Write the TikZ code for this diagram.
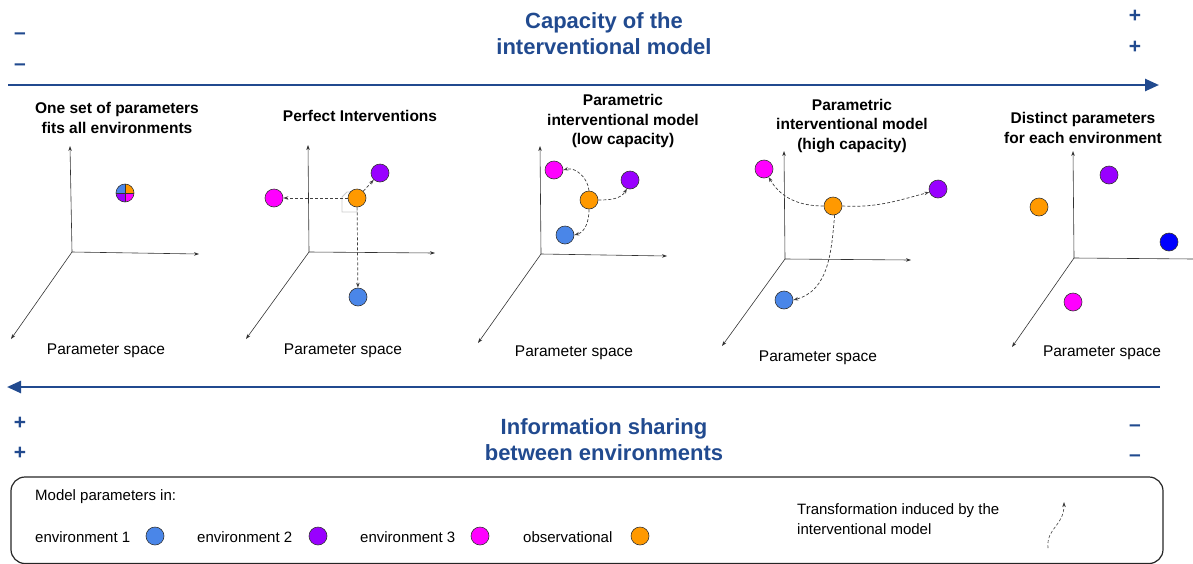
\documentclass[tikz,border=0pt]{standalone}
\usepackage{fontspec}
\setmainfont{Liberation Sans}
\usetikzlibrary{arrows.meta,calc}
\definecolor{hdblue}{RGB}{33,74,143}
\definecolor{envA}{RGB}{74,134,232}
\definecolor{envB}{RGB}{153,0,255}
\definecolor{envC}{RGB}{255,0,255}
\definecolor{obsO}{RGB}{255,153,0}
\definecolor{pureB}{RGB}{0,0,255}
\tikzset{
  pt/.style={circle,draw=black!80,line width=0.6pt,minimum size=18pt,inner sep=0pt},
  axis/.style={draw=black!80,line width=0.6pt,-{Stealth[length=5pt,width=3.5pt]}},
  trans/.style={draw=black!75,line width=0.7pt,dash pattern=on 3pt off 2pt,-{Stealth[length=5pt,width=3.5pt]}},
  bigarrow/.style={draw=hdblue,line width=2.5pt,-{Triangle[length=14pt,width=12pt]}},
  hdtext/.style={text=hdblue,font=\fontsize{22}{26}\selectfont\bfseries,align=center},
  pm/.style={text=hdblue,font=\fontsize{21}{24}\selectfont\bfseries,inner sep=0pt},
  ptitle/.style={font=\fontsize{15.5}{19.5}\selectfont\bfseries,align=center},
  pspace/.style={font=\fontsize{15.5}{19}\selectfont},
  legtext/.style={font=\fontsize{15}{20}\selectfont,anchor=west,inner sep=0pt,align=left},
}
\begin{document}
\begin{tikzpicture}[x=1pt,y=-1pt]
\useasboundingbox (0,0) rectangle (1193,563);
% header
\node[hdtext] (cap) at (604,34) {Capacity of the\\interventional model};
\node[pm] (m1) at (20,36) {–};
\node[pm] (m2) at (20,67) {–};
\node[pm] (p1) at (1135,16) {+};
\node[pm] (p2) at (1135,47) {+};
\coordinate (tA) at (8,85);
\coordinate (tB) at (1159,85);
\draw[bigarrow] (tA) -- (tB);
% bottom arrow
\coordinate (bA) at (1160,387);
\coordinate (bB) at (7,387);
\draw[bigarrow] (bA) -- (bB);
\node[pm] (p3) at (20,423) {+};
\node[pm] (p4) at (20,453) {+};
\node[pm] (m3) at (1135,428) {–};
\node[pm] (m4) at (1135,458) {–};
\node[hdtext] (info) at (604,440) {Information sharing\\between environments};

% ---------- panel 1
\coordinate (o1) at (72,252);
\coordinate (y1) at (70,146);
\coordinate (x1) at (199,254);
\coordinate (z1) at (11,339);
\draw[axis] (o1) -- (y1);
\draw[axis] (o1) -- (x1);
\draw[axis] (o1) -- (z1);
\node[ptitle] (t1) at (117,118) {One set of parameters\\fits all environments};
\node[pspace] (s1) at (106,351) {Parameter space};
\coordinate (c1) at (125,193);
\begin{scope}
\clip (c1) circle[radius=9];
\fill[envA] (c1) rectangle ++(-9,-9);
\fill[obsO] (c1) rectangle ++(9,-9);
\fill[envB] (c1) rectangle ++(-9,9);
\fill[envC] (c1) rectangle ++(9,9);
\end{scope}
\draw[black!80,line width=0.8pt] ($(c1)+(-9,0)$) -- ++(18,0);
\draw[black!80,line width=0.8pt] ($(c1)+(0,-9)$) -- ++(0,18);
\draw[black!80,line width=0.6pt] (c1) circle[radius=9];

% ---------- panel 2
\coordinate (o2) at (309,252);
\coordinate (y2) at (308,145);
\coordinate (x2) at (435,253);
\coordinate (z2) at (246,339);
\draw[axis] (o2) -- (y2);
\draw[axis] (o2) -- (x2);
\draw[axis] (o2) -- (z2);
\node[ptitle] (t2) at (360,116) {Perfect Interventions};
\node[pspace] (s2) at (343,351) {Parameter space};
\draw[black!20,line width=0.8pt] (342,197) -- (347,192) -- (357,192) -- (357,212) -- (342,212) -- cycle;
\node[pt,fill=obsO] (O2) at (357,198) {};
\node[pt,fill=envB] (B2) at (380,173) {};
\node[pt,fill=envC] (C2) at (274,198) {};
\node[pt,fill=envA] (A2) at (358,297) {};
\draw[trans] (O2) -- (C2);
\draw[trans] (O2) -- (A2);
\draw[trans] (O2) -- (B2);

% ---------- panel 3
\coordinate (o3) at (541,254);
\coordinate (y3) at (540,146);
\coordinate (x3) at (667,256);
\coordinate (z3) at (478,343);
\draw[axis] (o3) -- (y3);
\draw[axis] (o3) -- (x3);
\draw[axis] (o3) -- (z3);
\node[ptitle] (t3) at (623,121) {Parametric\\interventional model\\(low capacity)};
\node[pspace] (s3) at (574,353) {Parameter space};
\node[pt,fill=envC] (C3) at (554,170) {};
\node[pt,fill=envB] (B3) at (630,180) {};
\node[pt,fill=obsO] (O3) at (589,200) {};
\node[pt,fill=envA] (A3) at (565,235) {};
\draw[trans] (O3.north) to[out=95,in=15] (C3.east);
\draw[trans] (O3.east) to[out=0,in=240] (B3.250);
\draw[trans] (O3.south) to[out=-90,in=15] (A3.east);

% ---------- panel 4
\coordinate (o4) at (785,259);
\coordinate (y4) at (784,151);
\coordinate (x4) at (911,260);
\coordinate (z4) at (722,346);
\draw[axis] (o4) -- (y4);
\draw[axis] (o4) -- (x4);
\draw[axis] (o4) -- (z4);
\node[ptitle] (t4) at (852,126) {Parametric\\interventional model\\(high capacity)};
\node[pspace] (s4) at (818,358) {Parameter space};
\node[pt,fill=envC] (C4) at (764,169) {};
\node[pt,fill=envB] (B4) at (938,189) {};
\node[pt,fill=obsO] (O4) at (833,206) {};
\node[pt,fill=envA] (A4) at (784,300) {};
\draw[trans] (O4.west) to[out=180,in=-60] (C4.-60);
\draw[trans] (O4.east) to[out=-3,in=195] (B4.200);
\draw[trans] (O4.-80) to[out=-95,in=15] (A4.east);

% ---------- panel 5
\coordinate (o5) at (1074,258);
\coordinate (y5) at (1073,151);
\coordinate (x5) at (1194,259);
\coordinate (z5) at (1012,347);
\draw[axis] (o5) -- (y5);
\draw[draw=black!80,line width=0.6pt] (o5) -- (x5);
\draw[axis] (o5) -- (z5);
\node[ptitle] (t5) at (1083,128) {Distinct parameters\\for each environment};
\node[pspace] (s5) at (1102,353) {Parameter space};
\node[pt,fill=obsO] (O5) at (1039,207) {};
\node[pt,fill=envB] (B5) at (1109,175) {};
\node[pt,fill=pureB] (A5) at (1169,242) {};
\node[pt,fill=envC] (C5) at (1073,302) {};

% ---------- legend
\draw[black!85,line width=1.2pt,rounded corners=14pt] (11,477) rectangle (1163,563.5);
\node[legtext] (lh) at (35,497) {Model parameters in:};
\node[legtext] (l1) at (35,537) {environment 1};
\node[pt,fill=envA] (L1) at (155,536) {};
\node[legtext] (l2) at (197,537) {environment 2};
\node[pt,fill=envB] (L2) at (318,536) {};
\node[legtext] (l3) at (360,537) {environment 3};
\node[pt,fill=envC] (L3) at (480,536) {};
\node[legtext] (l4) at (523,537) {observational};
\node[pt,fill=obsO] (L4) at (640,536) {};
\node[legtext,anchor=north west] (lt) at (797,503) {Transformation induced by the\\interventional model};
\coordinate (ls) at (1048,548);
\coordinate (le) at (1064,502);
\draw[trans,line width=0.6pt] (ls) .. controls (1046,528) and (1064,526) .. (le);
\end{tikzpicture}
\end{document}
